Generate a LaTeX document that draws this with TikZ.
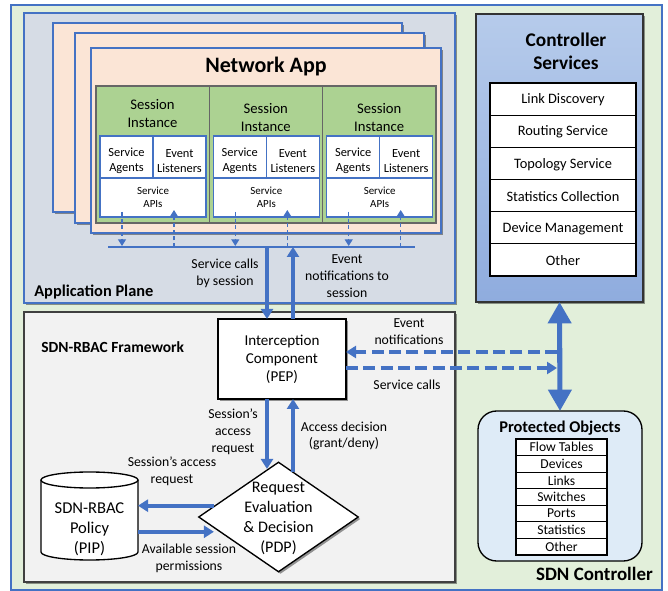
\documentclass[tikz,border=0pt]{standalone}
\usepackage{fontspec}
\setmainfont{Carlito}
\usetikzlibrary{arrows.meta,shapes.geometric,shadows,fit,calc}
\definecolor{cblue}{RGB}{68,114,196}
\definecolor{ctrlbg}{RGB}{226,239,218}
\definecolor{appbg}{RGB}{214,220,229}
\definecolor{peach}{RGB}{251,229,214}
\definecolor{sgreen}{RGB}{172,210,146}
\definecolor{fwbg}{RGB}{242,242,242}
\definecolor{csTop}{RGB}{182,203,235}
\definecolor{csBot}{RGB}{143,172,222}
\definecolor{pobg}{RGB}{222,235,247}
\newcommand{\fz}[2]{\fontsize{#1}{#2}\selectfont}
\begin{document}
\begin{tikzpicture}[x=0.75pt,y=-0.75pt,
  rbox/.style={inner sep=0pt,outer sep=0pt},
  shad/.style={drop shadow={shadow xshift=1.5pt,shadow yshift=-1.5pt,opacity=0.4,fill=black}},
  txt/.style={align=center,inner sep=0pt},
  big/.style={draw=cblue,line width=3pt,-{Triangle[width=9pt,length=7.5pt]}},
  bigdash/.style={draw=cblue,line width=3pt,dash pattern=on 9pt off 4pt,-{Triangle[width=9pt,length=7.5pt]}},
  dbl/.style={draw=cblue,line width=3.8pt,{Triangle[width=17pt,length=16pt]}-{Triangle[width=17pt,length=16pt]}},
  dasharr/.style={draw=cblue,line width=0.9pt,dash pattern=on 3pt off 2pt,-{Triangle[width=6pt,length=5pt]}},
  page/.style={rbox,fill=peach,draw=cblue,line width=1.2pt,shad},
  wbox/.style={rbox,fill=white,draw=cblue,line width=1pt},
  row/.style={rbox,fill=white,draw=black,line width=0.8pt},
]
\useasboundingbox (0,0) rectangle (668,591);
% SDN controller background
\node[rbox,fill=ctrlbg,draw=cblue,line width=1pt,fit={(11,5) (662,590)}] (ctrl) {};
% Application plane
\node[rbox,fill=appbg,draw=cblue,line width=1.5pt,shad,fit={(24,13) (455,303)}] (app) {};
\node[page,fit={(53,23) (402,212)}] (pg1) {};
\node[page,fit={(75,33) (424,223)}] (pg2) {};
\node[page,fit={(91,48) (441,233)}] (pg3) {};
\node[txt,font=\fz{16.5}{20}\bfseries] (napp) at (266,67) {Network App};
\foreach \i/\o/\ty in {1/0/114,2/113.3/118,3/226.7/118}{
  \node[rbox,fill=sgreen,draw=black!60,line width=1pt,fit={({96+\o},86) ({209.3+\o},223)}] (s\i) {};
  \node[txt,font=\fz{11}{13.5}] (si\i) at ({152.5+\o},\ty) {Session\\Instance};
  \node[wbox,fit={({100+\o},136) ({153+\o},178)}] (ag\i) {};
  \node[txt,font=\fz{9.3}{11.2}] (agt\i) at ($(ag\i.center)+(0,4)$) {Service\\Agents};
  \node[wbox,fit={({153+\o},136) ({206+\o},178)}] (el\i) {};
  \node[txt,font=\fz{9.3}{11.2}] (elt\i) at ($(el\i.center)+(0,4)$) {Event\\Listeners};
  \node[wbox,fit={({100+\o},178) ({206+\o},217)}] (api\i) {};
  \node[txt,font=\fz{8.2}{9.8}] (apit\i) at ({153+\o},197.5) {Service\\APIs};
  \draw[dasharr] ($(api\i.south west)+(22,-5)$) -- ($(api\i.south west)+(22,29)$);
  \draw[dasharr] ($(api\i.south west)+(74,30)$) -- ($(api\i.south west)+(74,-7)$);
}
\coordinate (busL) at (108,247);
\coordinate (busR) at (415,247);
\coordinate (busA) at (267,247);
\coordinate (busB) at (293,247);
\draw[cblue,line width=0.9pt] (busL) -- (busR);
\node[txt,font=\fz{10.3}{12.6}] (lsc) at (225,273) {Service calls\\by session};
\node[txt,font=\fz{10.3}{12.6}] (len) at (347,276) {Event\\notifications to\\session};
\node[txt,anchor=west,font=\fz{12.3}{15}\bfseries] (lap) at (34,292) {Application Plane};
% Framework
\node[rbox,fill=fwbg,draw=black!75,line width=1.2pt,shad,fit={(24,312) (455,582)}] (fw) {};
\node[txt,anchor=west,font=\fz{11.6}{14}\bfseries] (lfw) at (41,347) {SDN-RBAC Framework};
\node[rbox,fill=white,draw=black,line width=1pt,shad,fit={(218,319) (346,399)}] (pep) {};
\node[txt,font=\fz{11.3}{13.5}] (pept) at (pep.center) {Interception\\Component\\(PEP)};
\node[diamond,draw=black,fill=white,line width=1pt,shad,minimum width=120pt,minimum height=82.5pt,inner sep=0pt] (pdp) at (278.5,517) {};
\node[txt,font=\fz{12.1}{15}] (pdpt) at (278.5,518) {Request\\Evaluation\\\&~Decision\\(PDP)};
% cylinder
\node[rbox,fit={(41,472) (138,560)}] (pip) {};
\filldraw[fill=white,draw=black,line width=1pt] (41,480) -- (41,552) arc[start angle=180,end angle=0,x radius=48.5,y radius=8] -- (138,480);
\filldraw[fill=white,draw=black,line width=1pt] (89.5,480) ellipse[x radius=48.5,y radius=8];
\node[txt,font=\fz{12.4}{15}] (pipt) at (89.5,529) {SDN-RBAC\\Policy\\(PIP)};
% arrows between plane and framework
\draw[big] (busA) -- (busA |- pep.north);
\draw[big] (busB |- pep.north) -- (busB);
\draw[big] (busA |- pep.south) -- (busA |- pdp.103);
\draw[big] (busB |- pdp.71) -- (busB |- pep.south);
\draw[big] (pdp.170) -- (pdp.170 -| pip.east);
\draw[big,shorten >=4pt] (pdp.194 -| pip.east) -- (pdp.194);
\node[txt,font=\fz{10.3}{12.6}] (lsar) at (233,432) {Session’s\\access\\request};
\node[txt,font=\fz{10.3}{12.6}] (lad) at (344,436) {Access decision\\(grant/deny)};
\node[txt,font=\fz{10.3}{12.6}] (lsar2) at (172,471) {Session’s access\\request};
\node[txt,font=\fz{10.3}{12.6}] (lasp) at (189,558) {Available session\\permissions};
% Controller services
\node[rbox,top color=csTop,bottom color=csBot,draw=black!80,line width=1pt,shad,fit={(476,14) (643,302)}] (cs) {};
\node[txt,font=\fz{14.5}{17.3}\bfseries] (cst) at (566,51.5) {Controller\\Services};
\foreach \t [count=\k] in {Link Discovery,Routing Service,Topology Service,Statistics Collection,Device Management,Other}{
  \node[row,fit={(490,{83+(\k-1)*32.17}) (636,{83+\k*32.17})}] (cs\k) {};
  \node[txt,font=\fz{10.8}{13}] (cst\k) at ($(cs\k.center)+(0,1)$) {\t};
}
% Protected objects
\node[rbox,fill=pobg,draw=black,line width=1pt,rounded corners=14pt,fit={(478,411) (642,561)}] (po) {};
\node[txt,font=\fz{12.3}{15}\bfseries] (pot) at (560,428) {Protected Objects};
\foreach \t [count=\k] in {Flow Tables,Devices,Links,Switches,Ports,Statistics,Other}{
  \node[row,fit={(516,{439+(\k-1)*16.57}) (607,{439+\k*16.57})}] (po\k) {};
  \node[txt,font=\fz{10.2}{12}] (pot\k) at (po\k.center) {\t};
}
\draw[dbl] (cs.south) -- (po.north);
\coordinate (evR) at (557,352);
\coordinate (scR) at (557,368);
\draw[bigdash] (evR) -- (evR -| pep.east);
\draw[bigdash] (scR -| pep.east) -- (scR);
\node[txt,font=\fz{10.3}{12.6}] (lev) at (409,332) {Event\\notifications};
\node[txt,font=\fz{10.3}{12.6}] (lsc2) at (407,385) {Service calls};
\node[txt,anchor=east,font=\fz{14.2}{17}\bfseries] (lsdn) at (653,574) {SDN Controller};
\end{tikzpicture}
\end{document}
